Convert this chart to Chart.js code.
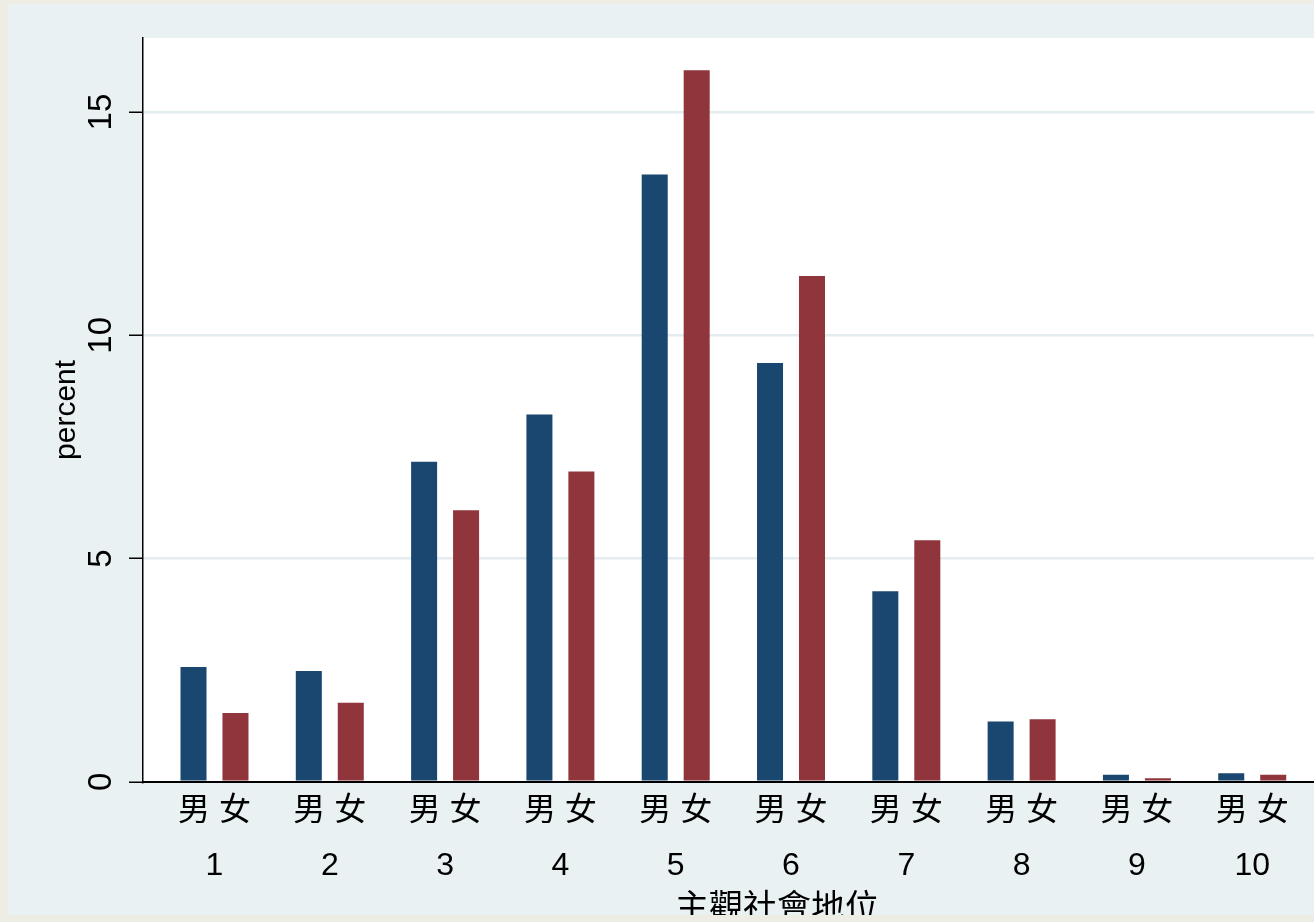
<!DOCTYPE html>
<html>
<head>
<meta charset="utf-8">
<script src="https://cdn.jsdelivr.net/npm/chart.js@4.4.1/dist/chart.umd.min.js"></script>
<style>
html, body { margin: 0; padding: 0; background: #EEEDE3; overflow: hidden; }
#region { position: absolute; left: 8px; top: 4px; width: 1306px; height: 911px; overflow: hidden; background: #EAF1F3; }
#wrap { position: absolute; left: -8px; top: -4px; }
</style>
</head>
<body>
<div id="region"><div id="wrap"><canvas id="graph" width="1411" height="923"></canvas></div></div>
<script>
// 主觀社會地位 1-10, percent by sex
const categories = [1, 2, 3, 4, 5, 6, 7, 8, 9, 10];
const sexLabels = ['男', '女'];
const male   = [2.57, 2.48, 7.17, 8.23, 13.60, 9.38, 4.27, 1.35, 0.16, 0.19];
const female = [1.54, 1.77, 6.08, 6.95, 15.94, 11.33, 5.41, 1.40, 0.08, 0.16];
const yTicks = [0, 5, 10, 15];

const FONT = "'Liberation Sans', 'Noto Sans CJK TC', sans-serif";

const plotBackground = {
    id: 'plotBackground',
    beforeDraw(chart) {
        const {ctx, chartArea: a} = chart;
        ctx.save();
        ctx.fillStyle = '#ffffff';
        ctx.fillRect(a.left, a.top, a.width, a.height);
        ctx.restore();
    }
};

const ctx = document.getElementById('graph').getContext('2d');
const chart = new Chart(ctx, {
    type: 'bar',
    data: {
        datasets: [{
            label: sexLabels[0],
            data: categories.map((c, i) => ({x: c, y: male[i]})),
            backgroundColor: '#1A476F',
            categoryPercentage: 0.728,
            barPercentage: 0.62
        }, {
            label: sexLabels[1],
            data: categories.map((c, i) => ({x: c, y: female[i]})),
            backgroundColor: '#90353B',
            categoryPercentage: 0.728,
            barPercentage: 0.62
        }]
    },
    options: {
        responsive: false,
        animation: false,
        layout: {
            padding: {left: 54.5, top: 38, right: 0, bottom: 0}
        },
        scales: {
            x: {
                type: 'linear',
                offset: false,
                min: 0.38,
                max: 11.377,
                afterBuildTicks: axis => { axis.ticks = categories.map(v => ({value: v})); },
                grid: { display: false, drawTicks: false, offset: false },
                border: { color: '#000', width: 2 },
                ticks: {
                    autoSkip: false,
                    maxRotation: 0,
                    padding: 1.5,
                    color: '#000',
                    font: { family: FONT, size: 32, lineHeight: 1.734 },
                    callback: v => [sexLabels.join(' '), String(v)]
                },
                title: {
                    display: true,
                    text: '主觀社會地位',
                    color: '#000',
                    padding: 0,
                    font: { family: FONT, size: 34, lineHeight: 0.8 }
                }
            },
            y: {
                min: 0,
                max: 16.66,
                afterBuildTicks: axis => { axis.ticks = yTicks.map(v => ({value: v})); },
                grid: {
                    color: c => c.tick && c.tick.value === 0 ? 'rgba(0,0,0,0)' : '#E3ECEF',
                    lineWidth: 2.5,
                    tickColor: '#000',
                    tickLength: 14,
                    tickWidth: 1.5
                },
                border: { color: '#000', width: 1.5 },
                ticks: {
                    minRotation: 90,
                    maxRotation: 90,
                    crossAlign: 'center',
                    padding: 8.75,
                    color: '#000',
                    font: { family: FONT, size: 33, lineHeight: 1 }
                },
                title: {
                    display: true,
                    text: 'percent',
                    color: '#000',
                    padding: 0,
                    font: { family: FONT, size: 30, lineHeight: 0.8 }
                }
            }
        },
        plugins: {
            legend: { display: false },
            tooltip: { enabled: false }
        }
    },
    plugins: [plotBackground]
});
</script>
</body>
</html>
